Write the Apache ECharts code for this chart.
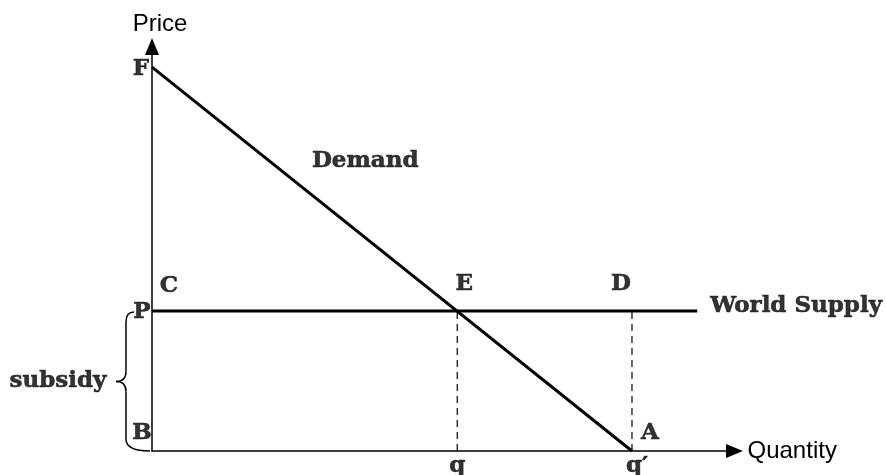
<!DOCTYPE html>
<html>
<head>
<meta charset="utf-8">
<script src="https://cdn.jsdelivr.net/npm/echarts@6/dist/echarts.min.js"></script>
<style>
  html, body { margin: 0; padding: 0; background: #fff; }
  #chart { width: 886px; height: 475px; }
</style>
</head>
<body>
<div id="chart"></div>
<script>
// 数据（坐标 0-100 的抽象单位）
var demandPts = [[0, 94.9], [82.4, 0]];
var supplyPts = [[0, 34.6], [93.6, 34.6]];
var qLine = [[52.4, 0], [52.4, 34.6]];
var qPrimeLine = [[82.4, 0], [82.4, 34.6]];
var priceP = 34.6;
// 点标签: 名称, x, y, 偏移
var pointNames = ['F', 'C', 'P', 'B', 'E', 'D', 'A', 'q', 'q\u2032'];
var pointX = [0, 0, 0, 0, 52.4, 82.4, 82.4, 52.4, 82.4];
var pointY = [94.9, 34.6, 34.6, 0, 34.6, 34.6, 0, 0, 0];
var pointOffset = [[-11, 2], [17, -25], [-10, 1], [-10, -18], [7, -27], [-11, -27], [18, -18], [0, 15], [5, 15]];

var serif = 'DejaVu Serif';
var chart = echarts.init(document.getElementById('chart'));

var labelData = [];
for (var i = 0; i < pointNames.length; i++) {
    labelData.push({
        name: pointNames[i],
        value: [pointX[i], pointY[i]],
        label: { offset: pointOffset[i] }
    });
}
// 文字标签
labelData.push({ name: 'Demand', value: [36.6, 71.7], label: { offset: [0, 0] } });
labelData.push({ name: 'World Supply', value: [93.6, 34.6], label: { offset: [13, -5], align: 'left' } });
labelData.push({ name: 'subsidy', value: [0, priceP / 2], label: { offset: [-94, 0] } });

var axisLine = {
    lineStyle: { color: '#000', width: 1.5 },
    symbol: ['none', 'triangle'], symbolSize: [14, 17]
};

var option = {
    animation: false,
    grid: { left: 152, right: 151.5, top: 46.5, bottom: 24 },
    xAxis: {
        type: 'value', min: 0, max: 100,
        name: 'Quantity', nameLocation: 'end', nameGap: 13,
        nameTextStyle: { fontFamily: 'Liberation Sans', fontSize: 24, color: '#000', padding: [0, 0, 6, 0] },
        axisLine: axisLine,
        axisTick: { show: false }, axisLabel: { show: false }, splitLine: { show: false }
    },
    yAxis: {
        type: 'value', min: 0, max: 100,
        name: 'Price', nameLocation: 'end', nameGap: 10,
        nameTextStyle: { fontFamily: 'Liberation Sans', fontSize: 24, color: '#000', padding: [0, 0, 0, 16] },
        axisLine: axisLine,
        axisTick: { show: false }, axisLabel: { show: false }, splitLine: { show: false }
    },
    series: [
        {
            type: 'line', data: demandPts, symbol: 'none',
            lineStyle: { color: '#000', width: 3 }
        },
        {
            type: 'line', data: supplyPts, symbol: 'none',
            lineStyle: { color: '#000', width: 3 }
        },
        {
            type: 'line', data: qLine, symbol: 'none',
            lineStyle: { color: '#000', width: 1.2, type: [7, 5] }
        },
        {
            type: 'line', data: qPrimeLine, symbol: 'none',
            lineStyle: { color: '#000', width: 1.2, type: [7, 5] }
        },
        {
            type: 'scatter', data: labelData, symbolSize: 0,
            itemStyle: { color: '#000' },
            label: {
                show: true, position: 'inside', formatter: '{b}',
                fontFamily: serif, fontWeight: 'bold', fontSize: 23, color: '#000',
                textBorderColor: '#000', textBorderWidth: 0.6,
                align: 'center', verticalAlign: 'middle'
            },
            emphasis: { disabled: true },
            z: 10
        }
    ]
};
chart.setOption(option);

// subsidy 大括号
var pTop = chart.convertToPixel({ gridIndex: 0 }, [0, priceP]);
var pBot = chart.convertToPixel({ gridIndex: 0 }, [0, 0]);
var ax = pTop[0], y1 = pTop[1] + 1, y2 = pBot[1];
var bx = ax - 26, mid = (y1 + y2) / 2;
var braceStyle = { fill: 'none', stroke: '#000', lineWidth: 1.5 };
chart.setOption({
    graphic: [
        { type: 'bezierCurve', shape: { x1: ax - 18, y1: y1, cpx1: bx, cpy1: y1, x2: bx, y2: y1 + 10 }, style: braceStyle },
        { type: 'line', shape: { x1: bx, y1: y1 + 10, x2: bx, y2: mid - 10 }, style: braceStyle },
        { type: 'bezierCurve', shape: { x1: bx, y1: mid - 10, cpx1: bx, cpy1: mid, x2: bx - 10, y2: mid }, style: braceStyle },
        { type: 'bezierCurve', shape: { x1: bx - 10, y1: mid, cpx1: bx, cpy1: mid, x2: bx, y2: mid + 10 }, style: braceStyle },
        { type: 'line', shape: { x1: bx, y1: mid + 10, x2: bx, y2: y2 - 12 }, style: braceStyle },
        { type: 'bezierCurve', shape: { x1: bx, y1: y2 - 12, cpx1: bx, cpy1: y2, x2: ax - 2, y2: y2 }, style: braceStyle }
    ]
});
</script>
</body>
</html>
